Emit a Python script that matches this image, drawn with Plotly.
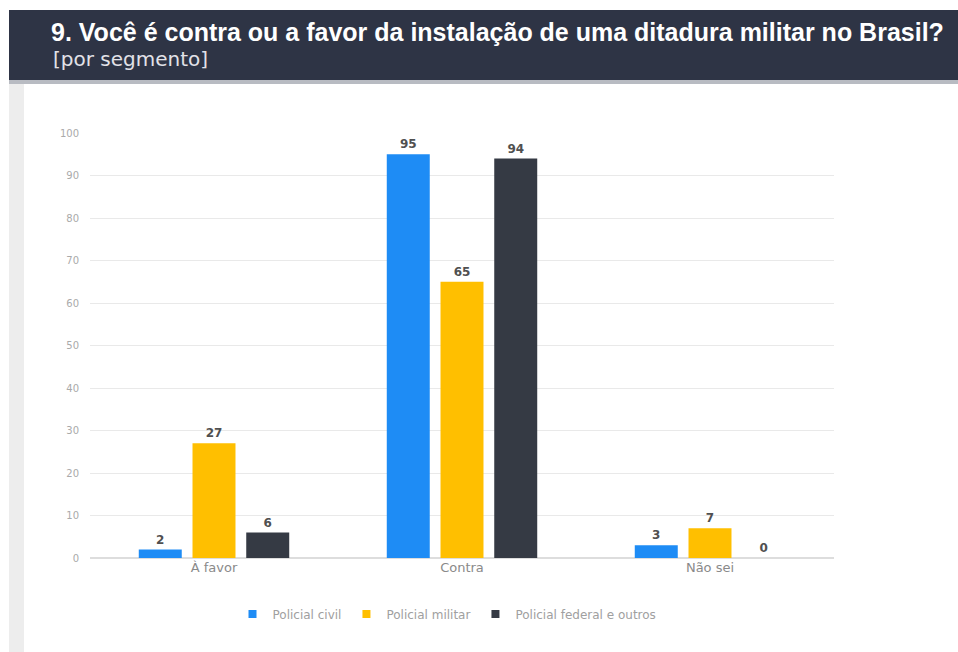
import plotly.graph_objects as go

# Survey answers by segment (percent)
categories = ["À favor", "Contra", "Não sei"]
series_names = ["Policial civil", "Policial militar", "Policial federal e outros"]
policial_civil = [2, 95, 3]
policial_militar = [27, 65, 7]
policial_federal = [6, 94, 0]
y_ticks = [0, 10, 20, 30, 40, 50, 60, 70, 80, 90, 100]

colors = ["#1E8CF5", "#FFBF00", "#353A44"]

W, H = 958, 652
ML, MR, MT, MB = 90, 124, 133, 94
PW, PH = W - ML - MR, H - MT - MB


def px_x(x):
    return (x - ML) / PW


def px_y(y):
    return (H - MB - y) / PH


fig = go.Figure()
for name, vals, col in zip(series_names, [policial_civil, policial_militar, policial_federal], colors):
    fig.add_trace(go.Bar(
        x=categories, y=vals, name=name, marker=dict(color=col, line=dict(width=0)),
        text=[str(v) for v in vals], textposition="outside", cliponaxis=False,
        textfont=dict(family="DejaVu Sans", size=12, color="#505050", weight="bold"),
        showlegend=False,
    ))
    # compact square swatch for the legend
    fig.add_trace(go.Scatter(
        x=[None], y=[None], mode="markers", name=name,
        marker=dict(symbol="square", size=8, color=col),
    ))

shapes = [
    # light strip along the left edge
    dict(type="rect", xref="paper", yref="paper", x0=px_x(9), x1=px_x(24), y0=px_y(652), y1=px_y(80),
         fillcolor="#ededed", line=dict(width=0), layer="below"),
    # header banner
    dict(type="rect", xref="paper", yref="paper", x0=px_x(9), x1=px_x(958), y0=px_y(80), y1=px_y(10),
         fillcolor="#2E3445", line=dict(width=0)),
    dict(type="rect", xref="paper", yref="paper", x0=px_x(9), x1=px_x(958), y0=px_y(84), y1=px_y(80),
         fillcolor="#b8bbc2", line=dict(width=0)),
]

annotations = [
    dict(text="<b>9. Você é contra ou a favor da instalação de uma ditadura militar no Brasil?</b>",
         xref="paper", yref="paper", x=px_x(49), y=px_y(32), xanchor="left", yanchor="middle",
         showarrow=False, font=dict(family="Liberation Sans", size=25, color="#ffffff")),
    dict(text="[por segmento]",
         xref="paper", yref="paper", x=px_x(51), y=px_y(59), xanchor="left", yanchor="middle",
         showarrow=False, font=dict(family="DejaVu Sans", size=20, color="#e2e2e8")),
]

fig.update_layout(
    width=W, height=H,
    margin=dict(l=ML, r=MR, t=MT, b=MB),
    paper_bgcolor="#ffffff", plot_bgcolor="#ffffff",
    barmode="group", bargap=0.35, bargroupgap=0.2,
    shapes=shapes, annotations=annotations,
    showlegend=True,
    legend=dict(orientation="h", x=px_x(447), xanchor="center", y=px_y(614), yanchor="middle",
                font=dict(family="DejaVu Sans", size=12, color="#a0a0a0"),
                itemwidth=30, tracegroupgap=0),
    xaxis=dict(showgrid=False, showline=False, ticks="",
               tickfont=dict(family="DejaVu Sans", size=13, color="#8a8a8a")),
    yaxis=dict(range=[0, 100], tickvals=y_ticks, showgrid=True, gridcolor="#e9e9e9", gridwidth=1,
               zeroline=True, zerolinecolor="#dddddd", showline=False,
               tickfont=dict(family="DejaVu Sans", size=10, color="#aaaaaa"),
               ticklabelstandoff=10),
)

fig.write_html("out.html")
